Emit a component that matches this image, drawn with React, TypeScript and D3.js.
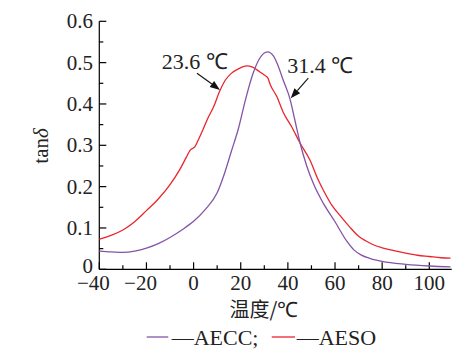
import React from 'react';
import * as d3 from 'd3';

// temperature (°C) and tan δ
const aeccT = [-40, -35, -30, -25, -20, -15, -10, -5, 0, 5, 10, 13, 16, 19, 22, 25, 28, 31.4, 34, 36, 38, 41, 43, 45.2, 48, 51, 55, 60, 65, 68, 71, 75, 80, 90, 100, 109];
const aeccV = [0.044, 0.042, 0.041, 0.044, 0.051, 0.062, 0.077, 0.095, 0.116, 0.145, 0.185, 0.23, 0.285, 0.34, 0.41, 0.47, 0.51, 0.526, 0.515, 0.49, 0.458, 0.41, 0.36, 0.305, 0.25, 0.205, 0.16, 0.115, 0.068, 0.047, 0.035, 0.026, 0.019, 0.012, 0.008, 0.006];

const aesoT = [-40, -35, -30, -25, -20, -15, -10, -6, -3, -1.5, 0.5, 2, 4, 6, 8.5, 11, 13.5, 16, 19, 22.5, 25, 28, 30, 31.5, 32.5, 35.3, 38, 41.6, 45.2, 49.4, 52.9, 55, 59, 62, 66, 70, 73, 76, 80, 85, 90, 95, 100, 105, 109];
const aesoV = [0.073, 0.082, 0.095, 0.115, 0.142, 0.17, 0.205, 0.24, 0.272, 0.288, 0.296, 0.313, 0.338, 0.365, 0.393, 0.43, 0.458, 0.474, 0.485, 0.492, 0.489, 0.478, 0.47, 0.463, 0.447, 0.418, 0.38, 0.345, 0.305, 0.264, 0.216, 0.192, 0.152, 0.131, 0.104, 0.08, 0.069, 0.06, 0.052, 0.045, 0.039, 0.034, 0.031, 0.028, 0.027];

const xTicks = [-40, -20, 0, 20, 40, 60, 80, 100];
const yTicks = [0, 0.1, 0.2, 0.3, 0.4, 0.5, 0.6];
const yLabels = ['0', '0.1', '0.2', '0.3', '0.4', '0.5', '0.6'];

const notes = [
  { num: '23.6', t: 11.2, v: 0.434, tail: [-23, -16.7], label: [-58.3, -21] },
  { num: '31.4', t: 41.2, v: 0.414, tail: [17.6, -20], label: [-3.4, -25] },
];

const purple = '#8455a6';
const red = '#e8262d';
const latin = 'Liberation Serif, serif';
const cjk = 'Noto Sans CJK SC, sans-serif';

export default function App() {
  const x = d3.scaleLinear().domain([-40, 109.5]).range([99.3, 451.7]);
  const y = d3.scaleLinear().domain([0, 0.6]).range([269.3, 21.3]);

  const path = (ts: number[], vs: number[]) =>
    d3.line<number>()
      .x((_, i) => x(ts[i]))
      .y((_, i) => y(vs[i]))
      .curve(d3.curveMonotoneX)(ts) || '';

  const minorX = d3.range(-30, 110, 20);
  const minorY = d3.range(0.05, 0.6, 0.1);

  return (
    <svg width={473} height={359} style={{ position: 'absolute', left: 0, top: 0, background: '#fff' }}>
      {/* axes */}
      <g stroke="#000" strokeWidth={1.2}>
        <line x1={x(-40)} x2={x(109.5)} y1={y(0)} y2={y(0)} />
        <line x1={x(-40)} x2={x(-40)} y1={y(0)} y2={y(0.6)} />
        {xTicks.map(t => <line key={'xt' + t} x1={x(t)} x2={x(t)} y1={y(0)} y2={y(0) - 7} />)}
        {minorX.map(t => <line key={'xm' + t} x1={x(t)} x2={x(t)} y1={y(0)} y2={y(0) - 4} />)}
        {yTicks.map(v => <line key={'yt' + v} x1={x(-40)} x2={x(-40) + 7} y1={y(v)} y2={y(v)} />)}
        {minorY.map(v => <line key={'ym' + v} x1={x(-40)} x2={x(-40) + 4} y1={y(v)} y2={y(v)} />)}
      </g>
      <g fontSize={21} fill="#222" fontFamily={latin}>
        {xTicks.map(t => {
          const digits = String(Math.abs(t)).length;
          return (
            <text key={'xl' + t} x={x(t) + digits * 5.25} y={289.5} textAnchor="end">
              {t < 0 ? '−' + Math.abs(t) : String(t)}
            </text>
          );
        })}
        {yTicks.map((v, i) => (
          <text key={'yl' + v} x={93} y={y(v) + (v === 0 ? 4 : 7)} textAnchor="end">{yLabels[i]}</text>
        ))}
      </g>
      <text transform="translate(48,146) rotate(-90)" textAnchor="middle" fontSize={21} fill="#222" fontFamily={latin}>
        tan<tspan fontStyle="italic">δ</tspan>
      </text>
      <text x={264} y={317} textAnchor="middle" fontSize={20} fill="#222" fontFamily={cjk}>
        温度/<tspan fontFamily={latin} fontSize={21}>℃</tspan>
      </text>

      {/* curves */}
      <path d={path(aesoT, aesoV)} fill="none" stroke={red} strokeWidth={1.3} />
      <path d={path(aeccT, aeccV)} fill="none" stroke={purple} strokeWidth={1.3} />

      {/* annotations */}
      {notes.map(n => {
        const tx = x(n.t), ty = y(n.v);
        const sx = tx + n.tail[0], sy = ty + n.tail[1];
        const ang = Math.atan2(ty - sy, tx - sx);
        const L = 10, W = 3.8;
        const bx = tx - L * Math.cos(ang), by = ty - L * Math.sin(ang);
        const px = -Math.sin(ang) * W, py = Math.cos(ang) * W;
        return (
          <g key={n.num}>
            <line x1={sx} y1={sy} x2={bx} y2={by} stroke="#111" strokeWidth={1.1} />
            <polygon points={`${tx},${ty} ${bx + px},${by + py} ${bx - px},${by - py}`} fill="#111" />
            <text x={tx + n.label[0]} y={ty + n.label[1]} fontSize={22} fill="#222" fontFamily={latin}>{n.num + ' ℃'}</text>
          </g>
        );
      })}

      {/* legend */}
      <line x1={146.7} x2={168.3} y1={337} y2={337} stroke={purple} strokeWidth={1.3} />
      <text x={171.7} y={345} fontSize={22} fill="#222" fontFamily={latin}>—AECC;</text>
      <line x1={271.7} x2={295} y1={337} y2={337} stroke={red} strokeWidth={1.3} />
      <text x={296.7} y={345} fontSize={22} fill="#222" fontFamily={latin}>—AESO</text>
    </svg>
  );
}
